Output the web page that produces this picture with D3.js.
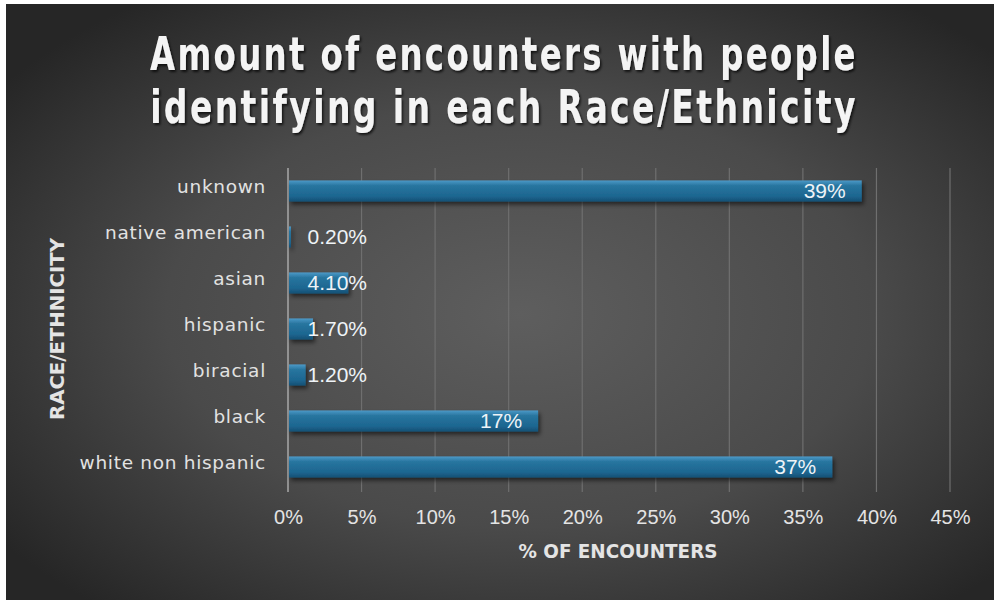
<!DOCTYPE html>
<html><head><meta charset="utf-8">
<script src="https://cdn.jsdelivr.net/npm/d3@7"></script>
<style>html,body{margin:0;padding:0;background:#fff;}svg{display:block;}</style>
</head><body>
<svg id="chart" width="994" height="600"></svg>
<script>
const categories = ["unknown","native american","asian","hispanic","biracial","black","white non hispanic"];
const values = [39, 0.2, 4.1, 1.7, 1.2, 17, 37];
const valueLabels = ["39%","0.20%","4.10%","1.70%","1.20%","17%","37%"];
const tickValues = [0,5,10,15,20,25,30,35,40,45];
const titleLines = ["Amount of encounters with people","identifying in each Race/Ethnicity"];

const svg = d3.select("#chart");
const defs = svg.append("defs");
const bg = defs.append("radialGradient").attr("id","bg").attr("cx","52%").attr("cy","52%").attr("r","65%");
bg.append("stop").attr("offset","0%").attr("stop-color","#5e5e5e");
bg.append("stop").attr("offset","55%").attr("stop-color","#4a4a4a");
bg.append("stop").attr("offset","100%").attr("stop-color","#262626");
const bar = defs.append("linearGradient").attr("id","bar").attr("x1",0).attr("y1",0).attr("x2",0).attr("y2",1);
bar.append("stop").attr("offset","0%").attr("stop-color","#4d9ac8");
bar.append("stop").attr("offset","25%").attr("stop-color","#27759f");
bar.append("stop").attr("offset","75%").attr("stop-color","#1d6690");
bar.append("stop").attr("offset","100%").attr("stop-color","#154f74");
const sh = defs.append("filter").attr("id","shadow").attr("x","-10%").attr("y","-50%").attr("width","120%").attr("height","200%");
sh.append("feDropShadow").attr("dx",2).attr("dy",3).attr("stdDeviation",2).attr("flood-color","#000").attr("flood-opacity",0.55);
const ts = defs.append("filter").attr("id","tshadow").attr("x","-5%").attr("y","-20%").attr("width","110%").attr("height","150%");
ts.append("feDropShadow").attr("dx",1.5).attr("dy",2).attr("stdDeviation",1.2).attr("flood-color","#000").attr("flood-opacity",0.7);

svg.append("rect").attr("x",0).attr("y",0).attr("width",994).attr("height",600).attr("fill","#fff");
svg.append("rect").attr("x",6).attr("y",4).attr("width",988).attr("height",596).attr("fill","url(#bg)");

const condensed = "'DejaVu Sans Condensed','Liberation Sans Narrow',sans-serif";

// title: condensed by a horizontal scale fitted to the target width
const titleWidth = 708, titleCx = 504;
svg.append("g").attr("filter","url(#tshadow)").selectAll("text").data(titleLines).join("text")
  .attr("x",0).attr("y",0)
  .attr("text-anchor","middle")
  .attr("font-family",condensed).attr("letter-spacing",3)
  .attr("font-weight","bold").attr("font-size",46)
  .attr("fill","#f4f4f4").text(d=>d)
  .each(function(d,i){
    const w = this.getComputedTextLength();
    const s = Math.min(1, titleWidth / w);
    d3.select(this).attr("transform",`translate(${titleCx},${70+i*53}) scale(${s},1)`);
  });

const x = d3.scaleLinear().domain([0,45]).range([288,950]);
const y = d3.scaleBand().domain(categories).range([168,490]).paddingInner(0.54).paddingOuter(0.27);

// gridlines
svg.append("g").selectAll("line").data(tickValues.slice(1)).join("line")
  .attr("x1",d=>x(d)).attr("x2",d=>x(d)).attr("y1",168).attr("y2",492)
  .attr("stroke","#6f6f6f").attr("stroke-width",1.2);
svg.append("line").attr("x1",x(0)).attr("x2",x(0)).attr("y1",168).attr("y2",492)
  .attr("stroke","#a8a8a8").attr("stroke-width",1.5);

// bars
svg.append("g").attr("filter","url(#shadow)").selectAll("rect").data(values).join("rect")
  .attr("x",x(0)+1).attr("y",(d,i)=>y(categories[i]))
  .attr("width",d=>Math.max(0,x(d)-x(0)-1)).attr("height",y.bandwidth())
  .attr("fill","url(#bar)");

// value labels
svg.append("g").selectAll("text").data(values).join("text")
  .attr("x",d=>Math.max(x(d)-16, x(0)+79))
  .attr("y",(d,i)=>y(categories[i])+y.bandwidth()/2+7)
  .attr("text-anchor","end")
  .attr("font-family","'Liberation Sans',Arial,sans-serif").attr("font-size",21)
  .attr("fill","#eef3f7").text((d,i)=>valueLabels[i]);

// y axis category labels
const yAxis = d3.axisLeft(y).tickSize(0).tickPadding(22);
const gy = svg.append("g").attr("transform",`translate(${x(0)},0)`).call(yAxis);
gy.select(".domain").remove();
gy.selectAll("text").attr("font-family","'DejaVu Sans',sans-serif").attr("font-size",18.5)
  .attr("letter-spacing","0.7").attr("fill","#e2e2e2").attr("dy","0.1em");

// x axis
const xAxis = d3.axisBottom(x).tickValues(tickValues).tickFormat(d=>d+"%").tickSize(0).tickPadding(8);
const gx = svg.append("g").attr("transform","translate(0,502)").call(xAxis);
gx.select(".domain").remove();
gx.selectAll("text").attr("font-family","'Liberation Sans',Arial,sans-serif").attr("font-size",20).attr("fill","#e4e4e4");

// axis titles
svg.append("text").attr("x",618).attr("y",558).attr("text-anchor","middle")
  .attr("textLength",199).attr("lengthAdjust","spacingAndGlyphs")
  .attr("font-family",condensed).attr("font-weight","bold")
  .attr("font-size",20).attr("fill","#e4e4e4").text("% OF ENCOUNTERS");
svg.append("text").attr("transform","translate(64,329) rotate(-90)").attr("text-anchor","middle")
  .attr("textLength",182).attr("lengthAdjust","spacingAndGlyphs")
  .attr("font-family",condensed).attr("font-weight","bold")
  .attr("font-size",20).attr("fill","#e4e4e4").text("RACE/ETHNICITY");
</script>
</body></html>
